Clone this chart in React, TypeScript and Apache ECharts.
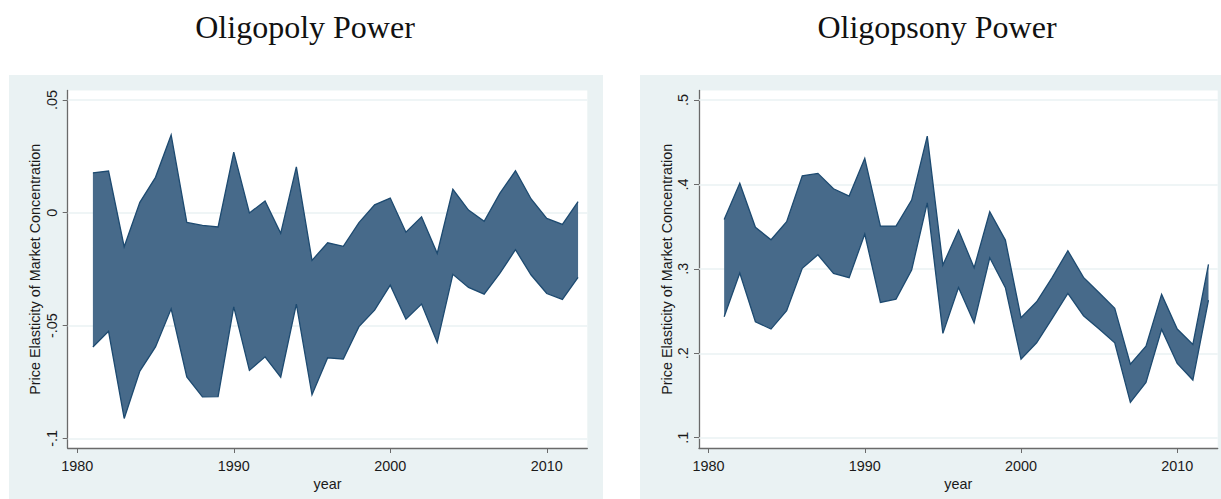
import React, { useEffect, useRef } from "react";
import * as echarts from "echarts";

const years = [1981, 1982, 1983, 1984, 1985, 1986, 1987, 1988, 1989, 1990, 1991, 1992, 1993, 1994, 1995, 1996, 1997, 1998, 1999, 2000, 2001, 2002, 2003, 2004, 2005, 2006, 2007, 2008, 2009, 2010, 2011, 2012];

const oligopolyUpper = [0.0177, 0.0185, -0.0151, 0.0046, 0.0157, 0.0345, -0.0043, -0.0056, -0.0063, 0.0269, -0.0001, 0.0052, -0.0091, 0.0203, -0.0211, -0.0133, -0.0149, -0.0044, 0.0035, 0.0065, -0.0086, -0.0018, -0.018, 0.0104, 0.0012, -0.0038, 0.0086, 0.0186, 0.0061, -0.0025, -0.0052, 0.0049];
const oligopolyLower = [-0.0595, -0.0526, -0.0912, -0.0702, -0.0595, -0.0426, -0.0728, -0.0816, -0.0815, -0.0417, -0.0699, -0.0639, -0.0729, -0.0405, -0.0807, -0.0643, -0.0649, -0.0505, -0.0432, -0.0321, -0.0472, -0.0405, -0.0575, -0.0273, -0.0331, -0.0361, -0.0269, -0.0164, -0.0276, -0.0358, -0.0384, -0.0287];

const oligopsonyUpper = [0.3586, 0.4013, 0.3492, 0.3345, 0.3558, 0.4103, 0.4131, 0.3949, 0.3863, 0.4309, 0.3507, 0.3507, 0.3815, 0.4573, 0.3045, 0.346, 0.3013, 0.3677, 0.3341, 0.2421, 0.261, 0.2899, 0.3215, 0.2899, 0.2717, 0.2532, 0.1872, 0.2085, 0.2698, 0.2287, 0.2105, 0.3053];
const oligopsonyLower = [0.2433, 0.295, 0.2373, 0.2287, 0.2504, 0.3006, 0.3167, 0.2947, 0.2895, 0.3412, 0.2603, 0.2642, 0.2986, 0.3783, 0.2236, 0.2778, 0.2362, 0.3132, 0.2777, 0.1931, 0.2125, 0.2413, 0.271, 0.2445, 0.2287, 0.2125, 0.1418, 0.1655, 0.2283, 0.188, 0.1683, 0.263];

const xTicks = [1980, 1990, 2000, 2010];
const leftYTicks = [-0.1, -0.05, 0, 0.05];
const rightYTicks = [0.1, 0.2, 0.3, 0.4, 0.5];

const titles = ["Oligopoly Power", "Oligopsony Power"];
const yTitle = "Price Elasticity of Market Concentration";
const xTitle = "year";

const FILL = "#476a8a";
const STROKE = "#1d4a70";
const PANEL = "#eaf2f3";
const GRIDLINE = "#eaf2f3";
const AXIS = "#6a6a6a";
const TEXT = "#1a1a1a";
const SANS = "'Liberation Sans', Arial, sans-serif";

function fmt(v: number): string {
  if (Math.abs(v) < 1e-9) return "0";
  const s = String(+v.toFixed(4));
  return s.replace(/^(-?)0\./, "$1.");
}

function makeBandSeries(idx: number, lower: number[], upper: number[]) {
  const data = years.map((y, i) => [y, lower[i], upper[i]]);
  return {
    type: "custom",
    xAxisIndex: idx,
    yAxisIndex: idx,
    z: 3,
    data,
    encode: { x: 0, y: [1, 2] },
    renderItem: (params: any, api: any) => {
      if (params.dataIndex !== 0) return null;
      const up = data.map((d) => api.coord([d[0], d[2]]));
      const lo = data.map((d) => api.coord([d[0], d[1]]));
      const poly = up.concat(lo.slice().reverse());
      return {
        type: "group",
        children: [
          { type: "polygon", shape: { points: poly }, style: { fill: FILL, stroke: null } },
          { type: "polyline", shape: { points: up }, style: { fill: null, stroke: STROKE, lineWidth: 1.3 } },
          { type: "polyline", shape: { points: lo }, style: { fill: null, stroke: STROKE, lineWidth: 1.3 } },
        ],
      };
    },
    markLine: {
      silent: true,
      symbol: "none",
      z: 1,
      label: { show: false },
      lineStyle: { color: GRIDLINE, width: 1.5, type: "solid" },
      data: (idx === 0 ? leftYTicks : rightYTicks).map((v) => ({ yAxis: v })),
    },
  };
}

function xAxisOpt(idx: number) {
  return {
    gridIndex: idx,
    type: "value",
    min: 1979.39,
    max: 2012.59,
    name: xTitle,
    nameLocation: "middle",
    nameGap: 27,
    nameTextStyle: { fontFamily: SANS, fontSize: 14.4, color: TEXT },
    axisLine: { show: true, onZero: false, lineStyle: { color: AXIS, width: 1.3 } },
    axisTick: { show: true, customValues: xTicks, length: 5, lineStyle: { color: AXIS, width: 1 } },
    axisLabel: { customValues: xTicks, margin: 10.5, fontFamily: SANS, fontSize: 14.4, color: TEXT, formatter: (v: number) => String(v) },
    splitLine: { show: false },
  };
}

function yAxisOpt(idx: number, min: number, max: number, ticks: number[]) {
  return {
    gridIndex: idx,
    type: "value",
    min,
    max,
    name: yTitle,
    nameLocation: "middle",
    nameGap: 25.5,
    nameTextStyle: { fontFamily: SANS, fontSize: 14.4, color: TEXT },
    axisLine: { show: true, onZero: false, lineStyle: { color: AXIS, width: 1.3 } },
    axisTick: { show: true, customValues: ticks, length: 5, lineStyle: { color: AXIS, width: 1 } },
    axisLabel: { customValues: ticks, rotate: 90, margin: 8.8, fontFamily: SANS, fontSize: 14.4, color: TEXT, formatter: (v: number) => fmt(v) },
    splitLine: { show: false },
  };
}

export default function App() {
  const ref = useRef<HTMLDivElement>(null);
  useEffect(() => {
    if (!ref.current) return;
    const chart = echarts.init(ref.current, undefined, { renderer: "svg" });
    chart.setOption({
      animation: false,
      backgroundColor: "#ffffff",
      graphic: [
        { type: "rect", z: -10, shape: { x: 9, y: 75, width: 594, height: 424 }, style: { fill: PANEL } },
        { type: "rect", z: -10, shape: { x: 640, y: 75, width: 581, height: 424 }, style: { fill: PANEL } },
        { type: "text", x: 305, y: 27, style: { text: titles[0], font: "32px 'Liberation Serif', serif", fill: "#111", align: "center", verticalAlign: "middle" } },
        { type: "text", x: 937, y: 27, style: { text: titles[1], font: "32px 'Liberation Serif', serif", fill: "#111", align: "center", verticalAlign: "middle" } },
      ],
      grid: [
        { left: 67.7, top: 90.5, width: 519.6, height: 357.5, show: true, backgroundColor: "#ffffff", borderWidth: 0, containLabel: false },
        { left: 699, top: 90.5, width: 518.7, height: 357.5, show: true, backgroundColor: "#ffffff", borderWidth: 0, containLabel: false },
      ],
      xAxis: [xAxisOpt(0), xAxisOpt(1)],
      yAxis: [yAxisOpt(0, -0.1043, 0.0542, leftYTicks), yAxisOpt(1, 0.0878, 0.5113, rightYTicks)],
      series: [makeBandSeries(0, oligopolyLower, oligopolyUpper), makeBandSeries(1, oligopsonyLower, oligopsonyUpper)],
    });
    return () => chart.dispose();
  }, []);
  return <div ref={ref} style={{ position: "absolute", left: 0, top: 0, width: 1221, height: 499 }} />;
}
